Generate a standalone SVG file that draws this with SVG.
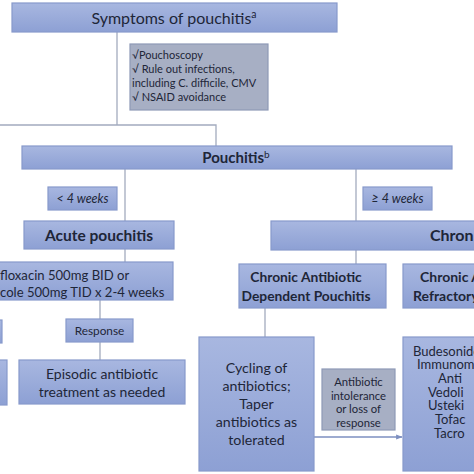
<svg xmlns="http://www.w3.org/2000/svg" width="474" height="474" viewBox="0 0 474 474">
<defs>
<linearGradient id="blue" x1="0" y1="0" x2="0" y2="1">
<stop offset="0" stop-color="#a8b7e0"/>
<stop offset="1" stop-color="#8da0d4"/>
</linearGradient>
<marker id="arr" viewBox="0 0 10 10" refX="9" refY="5" markerWidth="5" markerHeight="5" orient="auto">
<path d="M0,1 L10,5 L0,9 z" fill="#7d8fc0"/>
</marker>
</defs>
<style>
.b{fill:url(#blue);stroke:#8799cb;stroke-width:1.2}
.g{fill:#a7afc4;stroke:#8e99b6;stroke-width:1.2}
.l{stroke:#a3abbe;stroke-width:1.3;fill:none}
text{font-family:Lato,"Liberation Sans",sans-serif;fill:#1e2638}
.c{text-anchor:middle}
.bo{font-weight:bold}
.it{font-style:italic}
</style>
<rect width="474" height="474" fill="#ffffff"/>
<g id="connectors">
<path class="l" d="M117,32 V125"/>
<path class="l" d="M0,125 H216 V146"/>
<path class="l" d="M125,169 V221"/>
<path class="l" d="M356,169 V221"/>
<path class="l" d="M125,249 V262"/>
<path class="l" d="M100,300 V319 M100,342 V360"/>
<path class="l" d="M356,250 V264"/>
<path class="l" d="M265,308 V337"/>
<path d="M314,437 H402" stroke="#7d8fc0" stroke-width="1.3" fill="none" marker-end="url(#arr)"/>
</g>
<g id="symptoms">
<rect class="b" x="12" y="3" width="325" height="29"/>
<text class="c" x="174" y="24" font-size="16">Symptoms of pouchitis<tspan font-size="10.5" dy="-6">a</tspan></text>
</g>
<g id="workup">
<rect class="g" x="130" y="44" width="138" height="66"/>
<text x="132" y="59" font-size="11">√Pouchoscopy</text>
<text x="132" y="73" font-size="11">√ Rule out infections,</text>
<text x="132" y="87" font-size="11">including C. difficile, CMV</text>
<text x="132" y="101" font-size="11">√ NSAID avoidance</text>
</g>
<g id="pouchitis">
<rect class="b" x="22" y="146" width="430" height="23"/>
<text class="c bo" x="236" y="163" font-size="15">Pouchitis<tspan font-size="10" dy="-5" font-weight="normal">b</tspan></text>
</g>
<g id="lt4">
<rect class="b" x="48" y="187" width="69" height="23"/>
<text class="c it" x="82.5" y="203" font-size="12.5">&lt; 4 weeks</text>
</g>
<g id="ge4">
<rect class="b" x="363" y="187" width="69" height="23"/>
<text class="c it" x="397.5" y="203" font-size="12.5">≥ 4 weeks</text>
</g>
<g id="acute">
<rect class="b" x="24" y="221" width="150" height="28"/>
<text class="c bo" x="99" y="241" font-size="15.5">Acute pouchitis</text>
</g>
<g id="chronic">
<rect class="b" x="271" y="221" width="210" height="29"/>
<text class="bo" x="430" y="241" font-size="16">Chron</text>
</g>
<g id="antibiotics">
<rect class="b" x="-20" y="262" width="193" height="38"/>
<text x="0" y="280" font-size="13.1">floxacin 500mg BID or</text>
<text x="0" y="297" font-size="13.1">cole 500mg TID x 2-4 weeks</text>
</g>
<g id="leftbox1">
<rect class="b" x="-20" y="320" width="22" height="23"/>
</g>
<g id="leftbox2">
<rect class="b" x="-20" y="360" width="27" height="45"/>
</g>
<g id="response">
<rect class="b" x="66" y="319" width="67" height="23"/>
<text class="c" x="99.5" y="335" font-size="11.8">Response</text>
</g>
<g id="episodic">
<rect class="b" x="19" y="360" width="166" height="44"/>
<text class="c" x="102" y="379" font-size="14">Episodic antibiotic</text>
<text class="c" x="102" y="397" font-size="14">treatment as needed</text>
</g>
<g id="cadp">
<rect class="b" x="239" y="264" width="147" height="44"/>
<text class="c bo" x="306" y="282" font-size="13.8">Chronic Antibiotic</text>
<text class="c bo" x="306" y="301" font-size="13.8">Dependent Pouchitis</text>
</g>
<g id="carp">
<rect class="b" x="403" y="264" width="90" height="44"/>
<text class="bo" x="420" y="282" font-size="14">Chronic A</text>
<text class="bo" x="413" y="301" font-size="14">Refractory</text>
</g>
<g id="cycling">
<rect class="b" x="199" y="337" width="115" height="134"/>
<text class="c" x="256.5" y="373" font-size="14.2">Cycling of</text>
<text class="c" x="256.5" y="391" font-size="14.2">antibiotics;</text>
<text class="c" x="256.5" y="409" font-size="14.2">Taper</text>
<text class="c" x="256.5" y="427" font-size="14.2">antibiotics as</text>
<text class="c" x="256.5" y="445" font-size="14.2">tolerated</text>
</g>
<g id="intolerance">
<rect class="g" x="322" y="369" width="73" height="61"/>
<text class="c" x="358.5" y="386" font-size="11.3">Antibiotic</text>
<text class="c" x="358.5" y="399.5" font-size="11.3">intolerance</text>
<text class="c" x="358.5" y="413" font-size="11.3">or loss of</text>
<text class="c" x="358.5" y="426.5" font-size="11.3">response</text>
</g>
<g id="therapies">
<rect class="b" x="403" y="337" width="90" height="134"/>
<text x="413" y="355.5" font-size="13">Budesonide</text>
<text x="417" y="369.2" font-size="13">Immunom</text>
<text x="438" y="382.9" font-size="13">Anti</text>
<text x="428" y="396.6" font-size="13">Vedoli</text>
<text x="428" y="410.3" font-size="13">Usteki</text>
<text x="435" y="424" font-size="13">Tofac</text>
<text x="434" y="437.7" font-size="13">Tacro</text>
</g>
</svg>
